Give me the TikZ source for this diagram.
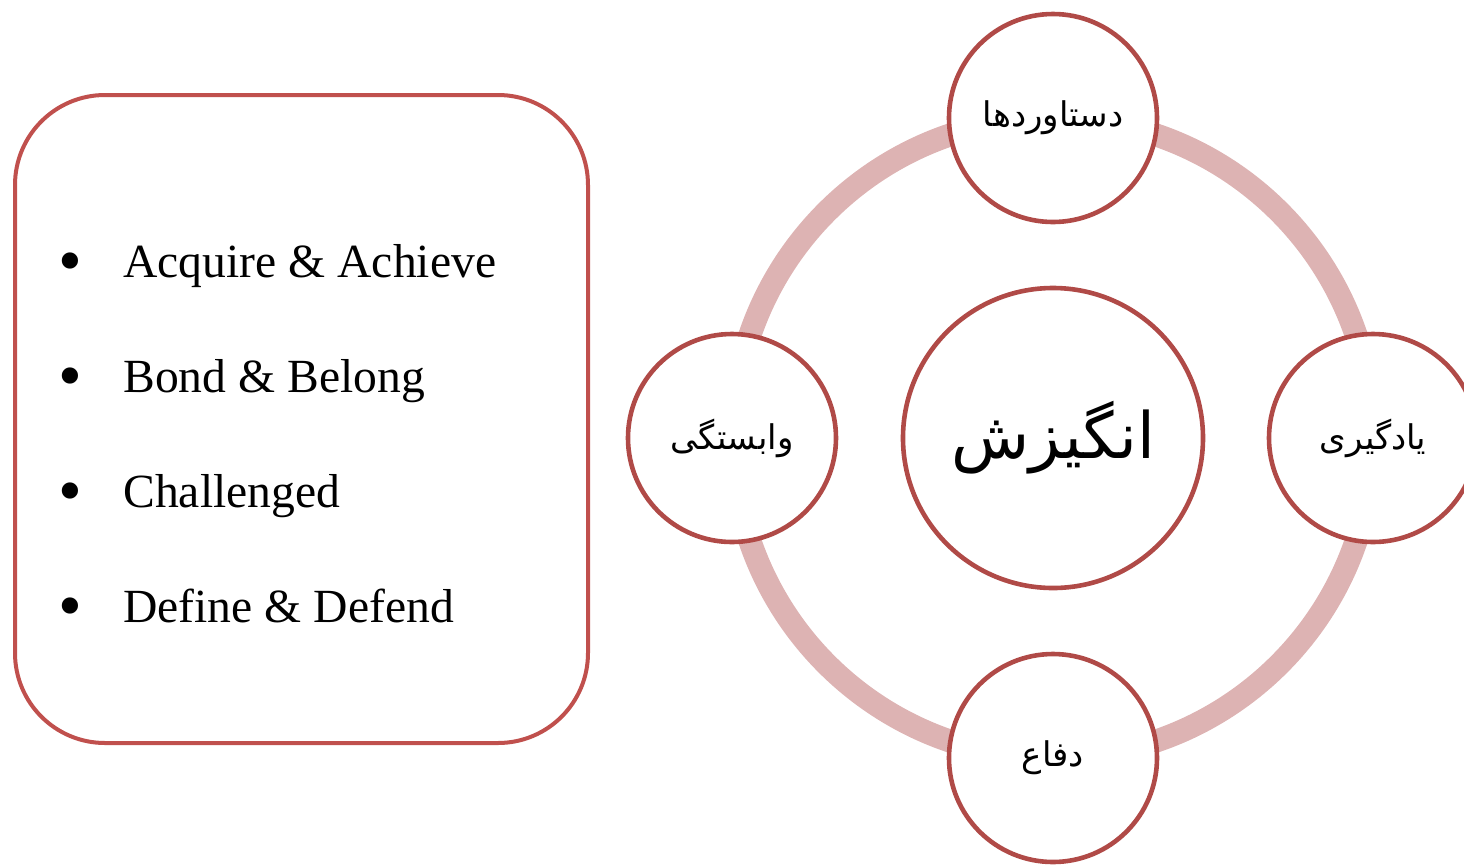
\documentclass[tikz,border=0pt]{standalone}
\usepackage{fontspec}
\setmainfont{Liberation Serif}
\newfontfamily\arabicfont[Script=Arabic]{DejaVu Sans}
\TeXXeTstate=1
\definecolor{boxred}{HTML}{C0504D}
\definecolor{circred}{HTML}{B04A47}
\definecolor{ringpink}{HTML}{DDB3B3}
\begin{document}
\begin{tikzpicture}[x=0.5pt,y=-0.5pt,
  listbox/.style={draw=boxred,line width=2pt,rounded corners=45pt,minimum width=286.5pt,minimum height=324pt,inner sep=0pt},
  item/.style={anchor=base west,font=\fontsize{23.8}{28}\selectfont,inner sep=0pt},
  bul/.style={anchor=center,font=\fontsize{34}{40}\selectfont,inner sep=0pt},
  small/.style={circle,draw=circred,line width=2.3pt,fill=white,minimum size=104pt,inner sep=0pt,font=\arabicfont\fontsize{17}{20}\selectfont},
  big/.style={circle,draw=circred,line width=2.3pt,fill=white,minimum size=150pt,inner sep=0pt,font=\arabicfont\fontsize{32}{38}\selectfont},
  ring/.style={draw=ringpink,line width=11.5pt}]
\useasboundingbox (0,0) rectangle (1464,864);
\node[listbox] (box) at (301.5,419) {};
\node[bul] (b1) at (70,268) {•};
\node[item] (t1) at (123,277) {Acquire \& Achieve};
\node[bul] (b2) at (70,383) {•};
\node[item] (t2) at (123,392) {Bond \& Belong};
\node[bul] (b3) at (70,498) {•};
\node[item] (t3) at (123,507) {Challenged};
\node[bul] (b4) at (70,613) {•};
\node[item] (t4) at (123,622) {Define \& Defend};
\coordinate (c) at (1053,438);
\draw[ring] (c) circle[radius=160pt];
\node[big] (center) at (c) {\beginR انگیزش\endR};
\node[small] (top) at (1053,118) {\beginR دستاوردها\endR};
\node[small] (left) at (732,438) {\beginR وابستگی\endR};
\node[small] (right) at (1373,438) {\beginR یادگیری\endR};
\node[small] (bottom) at (1053,758) {\beginR دفاع\endR};
\end{tikzpicture}
\end{document}
